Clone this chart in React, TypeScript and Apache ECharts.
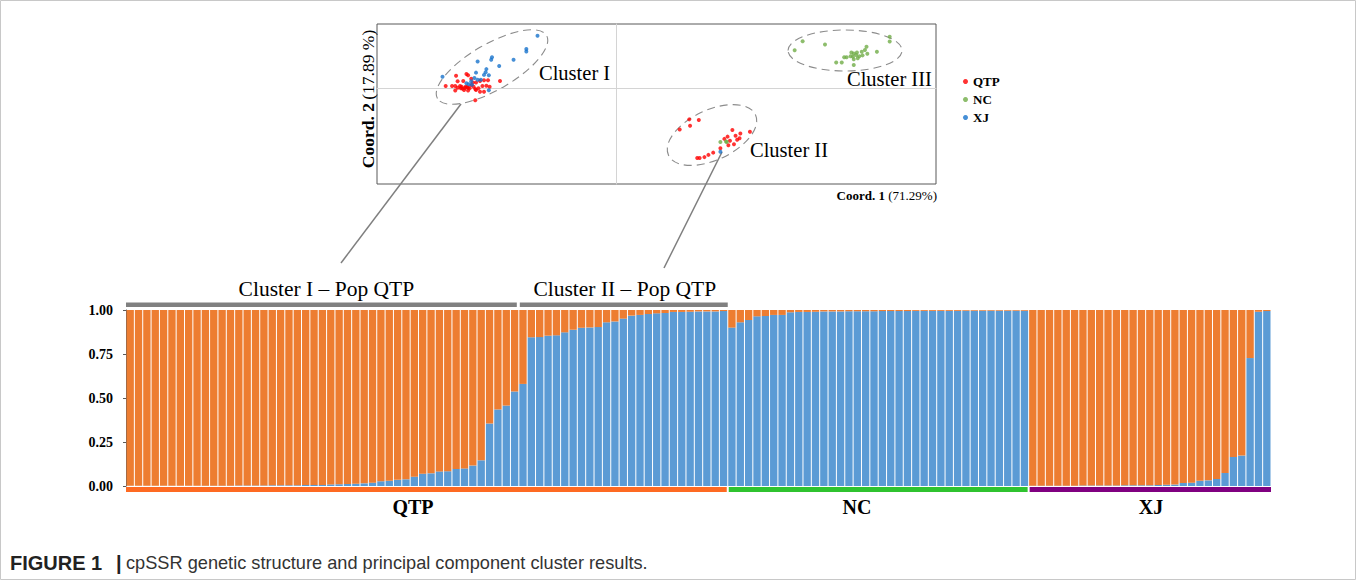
import React, { useEffect, useRef } from "react";
import * as echarts from "echarts";

// ---------- Structure (K=2) : blue ancestry fraction per individual ----------
const QTP_BLUE = [
  0.001, 0.001, 0.001, 0.001, 0.001, 0.001, 0.001, 0.001, 0.001,
  0.002, 0.002, 0.002, 0.002,
  0.003, 0.003, 0.003, 0.003,
  0.004, 0.004, 0.004, 0.004,
  0.006, 0.006, 0.006,
  0.009, 0.01, 0.012, 0.013, 0.015, 0.019, 0.027, 0.03, 0.035, 0.038,
  0.053, 0.07, 0.072, 0.083, 0.084, 0.097, 0.1, 0.116, 0.146,
  0.355, 0.435, 0.457, 0.537, 0.58,
  0.845, 0.846, 0.854, 0.856, 0.873, 0.888, 0.899, 0.901, 0.903,
  0.93, 0.935, 0.951, 0.968, 0.972, 0.977, 0.981, 0.983, 0.989, 0.989,
  0.99, 0.992, 0.992, 0.992, 0.994,
];
const NC_BLUE = [
  0.9, 0.93, 0.943, 0.964, 0.966, 0.972, 0.972, 0.987, 0.989, 0.989, 0.99,
  0.992, 0.992, 0.992, 0.993, 0.993, 0.993, 0.993, 0.994, 0.994, 0.994, 0.994,
  0.995, 0.995, 0.995, 0.995, 0.995, 0.995,
  0.996, 0.996, 0.996, 0.996, 0.996, 0.996, 0.996, 0.996,
];
const XJ_BLUE = [
  0.002, 0.002, 0.002, 0.002, 0.002, 0.002,
  0.003, 0.003, 0.003, 0.003, 0.003,
  0.004, 0.004, 0.004, 0.004,
  0.006, 0.007, 0.008, 0.017, 0.019, 0.03, 0.032, 0.04, 0.074,
  0.165, 0.173, 0.727, 0.99, 0.994,
];
const GROUPS = ["QTP", "NC", "XJ"];
const Y_TICKS = [0, 0.25, 0.5, 0.75, 1];
const CLUSTER_BRACKETS = [
  { label: "Cluster I – Pop QTP", from: 0, to: 46 },
  { label: "Cluster II – Pop QTP", from: 47, to: 71 },
];

// ---------- PCoA coordinates ----------
const QTP_PTS = [
  [-2.01, 0.38], [-1.88, 0.44], [-1.86, 0.4], [-1.82, 0.29], [-1.99, 0.21], [-1.92, 0.22],
  [-1.8, 0.17], [-1.76, 0.17], [-1.71, 0.22], [-1.66, 0.24], [-1.61, 0.24], [-1.46, 0.22],
  [-2.14, 0.06], [-2.06, 0.06], [-2.02, 0.06], [-1.96, 0.06], [-1.94, 0.04], [-1.89, 0.04],
  [-1.86, 0.01], [-1.84, -0.01], [-1.79, 0.04], [-1.77, -0.03], [-1.73, -0.01], [-1.68, 0.06],
  [-1.63, 0.07], [-1.59, 0.04], [-2.02, -0.08], [-1.91, -0.06], [-1.86, -0.08], [-1.76, -0.06],
  [-1.71, -0.12], [-1.66, -0.12], [-1.77, -0.38], [-1.93, -0.02], [-1.82, 0.09], [-1.99, 0.01],
  [-1.9, 0.0], [-1.87, 0.03], [-1.95, -0.01],
  [0.91, -0.98], [1.03, -1.0], [0.92, -1.18], [0.79, -1.3], [1.45, -1.31], [1.67, -1.37],
  [1.55, -1.42], [1.39, -1.52], [1.49, -1.49], [1.54, -1.57], [1.35, -1.59], [1.42, -1.65],
  [1.51, -1.62], [1.47, -1.76], [1.4, -1.79], [1.3, -1.88], [1.21, -2.02], [1.15, -2.09],
  [1.1, -2.16], [1.04, -2.19], [1.01, -2.19],
];
const NC_PTS = [
  [2.33, 1.46], [2.23, 1.18], [2.61, 1.36], [3.42, 1.6], [3.42, 1.45], [3.13, 1.29],
  [3.26, 1.13], [3.11, 1.19], [3.07, 1.13], [3.01, 1.11], [2.97, 1.08], [2.94, 1.11],
  [3.0, 1.03], [2.96, 0.98], [3.04, 0.99], [2.93, 0.99], [3.02, 0.93], [2.97, 0.9],
  [2.88, 0.96], [2.82, 0.8], [2.75, 0.8], [2.85, 0.96], [2.97, 0.72], [3.14, 1.07], [3.08, 1.02],
  [1.37, -1.67], [1.3, -1.69], [1.38, -1.69],
];
const XJ_PTS = [
  [-0.99, 1.63], [-1.13, 1.22], [-1.13, 1.14], [-1.29, 0.88], [-1.47, 0.69], [-1.56, 0.96],
  [-1.57, 0.88], [-1.74, 0.83], [-1.63, 0.59], [-1.64, 0.49], [-1.6, 0.4], [-1.76, 0.48],
  [-1.66, 0.41], [-1.7, 0.26], [-1.74, 0.26], [-1.82, 0.21], [-1.81, 0.1], [-1.85, 0.12],
  [-2.18, 0.35], [-1.6, -0.07], [-1.88, 0.15], [-1.78, 0.31],
  [1.3, -1.99],
];

const SERIF = "Liberation Serif";

export default function App() {
  const ref = useRef<HTMLDivElement>(null);

  useEffect(() => {
    if (!ref.current) return;
    const chart = echarts.init(ref.current, undefined, { renderer: "svg" });

    const blue = [...QTP_BLUE, ...NC_BLUE, ...XJ_BLUE];
    const orange = blue.map((v) => +(1 - v).toFixed(3));
    const cats = blue.map((_, i) => "S" + (i + 1));
    const groupSizes = [QTP_BLUE.length, NC_BLUE.length, XJ_BLUE.length];

    // bar grid geometry
    const BL = 126, BT = 310, BW = 1145, BH = 176;
    const step = BW / cats.length;
    const bx = (i: number) => BL + i * step;

    const groupColors = ["#fe6a22", "#2fc32f", "#800080"];
    const groupLabelX = [413, 857, 1151];
    const strips: any[] = [];
    let start = 0;
    groupSizes.forEach((n, gi) => {
      const x0 = bx(start) + (gi === 0 ? 0 : 1);
      const x1 = bx(start + n) - (gi === groupSizes.length - 1 ? 0 : 1);
      strips.push({
        type: "rect",
        shape: { x: x0, y: BT + BH + 1, width: x1 - x0, height: 5 },
        style: { fill: groupColors[gi] },
      });
      strips.push({
        type: "text",
        x: groupLabelX[gi],
        y: 507,
        style: {
          text: GROUPS[gi],
          fontFamily: SERIF,
          fontWeight: "bold",
          fontSize: 20,
          fill: "#000",
          textAlign: "center",
          textVerticalAlign: "middle",
        },
      });
      start += n;
    });

    const brackets: any[] = [];
    CLUSTER_BRACKETS.forEach((b, bi) => {
      const x0 = bx(b.from) + (bi === 0 ? 0 : 1);
      const x1 = bx(b.to + 1) - (bi === 0 ? 2 : 0);
      brackets.push({
        type: "rect",
        shape: { x: x0, y: 302.5, width: x1 - x0, height: 4.5 },
        style: { fill: "#808080" },
      });
      brackets.push({
        type: "text",
        x: (x0 + x1) / 2 + (bi === 0 ? 5 : 1),
        y: 289,
        style: {
          text: b.label,
          fontFamily: SERIF,
          fontSize: 21.5,
          fill: "#000",
          textAlign: "center",
          textVerticalAlign: "middle",
        },
      });
    });

    const dashed = { fill: "none", stroke: "#8c8c8c", lineWidth: 1.1, lineDash: [8, 5] };
    const deg = Math.PI / 180;

    const option: any = {
      animation: false,
      backgroundColor: "#fff",
      legend: {
        orient: "vertical",
        left: 958,
        top: 70,
        itemWidth: 5,
        itemHeight: 5,
        itemGap: 5,
        icon: "circle",
        data: GROUPS,
        textStyle: {
          fontFamily: SERIF,
          fontWeight: "bold",
          fontSize: 13,
          lineHeight: 13,
          color: "#000",
        },
      },
      grid: [
        {
          left: 377, top: 24, width: 559, height: 160,
          show: true, borderColor: "#595959", borderWidth: 1,
        },
        { left: BL, top: BT, width: BW, height: BH },
      ],
      xAxis: [
        {
          gridIndex: 0, type: "value", min: -3, max: 4,
          axisLine: { show: true, onZero: true, lineStyle: { color: "#d4d4d4", width: 1 } },
          axisTick: { show: false }, axisLabel: { show: false }, splitLine: { show: false },
        },
        {
          gridIndex: 1, type: "category", data: cats,
          axisLine: { show: false }, axisTick: { show: false }, axisLabel: { show: false },
        },
      ],
      yAxis: [
        {
          gridIndex: 0, type: "value", min: -3, max: 2,
          axisLine: { show: true, onZero: true, lineStyle: { color: "#d4d4d4", width: 1 } },
          axisTick: { show: false }, axisLabel: { show: false }, splitLine: { show: false },
        },
        {
          gridIndex: 1, type: "value", min: Y_TICKS[0], max: Y_TICKS[Y_TICKS.length - 1],
          interval: Y_TICKS[1] - Y_TICKS[0],
          axisLine: { show: true, lineStyle: { color: "#595959" } },
          axisTick: { show: true, length: 3, lineStyle: { color: "#595959" } },
          splitLine: { show: false },
          axisLabel: {
            margin: 13,
            formatter: (v: number) => v.toFixed(2),
            fontFamily: SERIF, fontWeight: "bold", fontSize: 14, color: "#000",
          },
        },
      ],
      series: [
        {
          name: "QTP", type: "scatter", xAxisIndex: 0, yAxisIndex: 0,
          data: QTP_PTS, symbolSize: 4, itemStyle: { color: "#ff0000" }, z: 3,
        },
        {
          name: "NC", type: "scatter", xAxisIndex: 0, yAxisIndex: 0,
          data: NC_PTS, symbolSize: 4, itemStyle: { color: "#70ad47" }, z: 3,
        },
        {
          name: "XJ", type: "scatter", xAxisIndex: 0, yAxisIndex: 0,
          data: XJ_PTS, symbolSize: 4, itemStyle: { color: "#1873cc" }, z: 4,
        },
        {
          name: "K1", type: "bar", stack: "q", xAxisIndex: 1, yAxisIndex: 1,
          data: blue, barCategoryGap: "12%", itemStyle: { color: "#5b9bd5" },
        },
        {
          name: "K2", type: "bar", stack: "q", xAxisIndex: 1, yAxisIndex: 1,
          data: orange, barCategoryGap: "12%", itemStyle: { color: "#ed7d31" },
        },
      ],
      graphic: [
        // outer frame
        {
          type: "rect",
          shape: { x: 0.5, y: 0.5, width: 1355, height: 579 },
          style: { fill: "none", stroke: "#c8c8c8", lineWidth: 1 },
          silent: true,
        },
        // ellipses
        { type: "ellipse", x: 492, y: 67, rotation: 30 * deg, shape: { cx: 0, cy: 0, rx: 63, ry: 23 }, style: dashed },
        { type: "ellipse", x: 712, y: 135, rotation: 25 * deg, shape: { cx: 0, cy: 0, rx: 48, ry: 25 }, style: dashed },
        { type: "ellipse", x: 845, y: 50.5, rotation: 0, shape: { cx: 0, cy: 0, rx: 57, ry: 20.5 }, style: dashed },
        // cluster labels
        { type: "text", x: 539, y: 73, style: { text: "Cluster I", fontFamily: SERIF, fontSize: 20.5, fill: "#000", textVerticalAlign: "middle" } },
        { type: "text", x: 847, y: 79, style: { text: "Cluster III", fontFamily: SERIF, fontSize: 20.5, fill: "#000", textVerticalAlign: "middle" } },
        { type: "text", x: 750, y: 150, style: { text: "Cluster II", fontFamily: SERIF, fontSize: 20.5, fill: "#000", textVerticalAlign: "middle" } },
        // leader lines
        { type: "line", shape: { x1: 461, y1: 104, x2: 341, y2: 263 }, style: { stroke: "#7f7f7f", lineWidth: 1.5 } },
        { type: "line", shape: { x1: 722, y1: 152, x2: 664, y2: 268 }, style: { stroke: "#7f7f7f", lineWidth: 1.5 } },
        // axis names
        {
          type: "text", x: 368, y: 99, rotation: Math.PI / 2,
          style: {
            text: "{b|Coord. 2} {n|(17.89 %)}",
            textAlign: "center", textVerticalAlign: "middle",
            rich: {
              b: { fontFamily: SERIF, fontWeight: "bold", fontSize: 17.5, fill: "#000" },
              n: { fontFamily: SERIF, fontSize: 17.5, fill: "#000" },
            },
          },
        },
        {
          type: "text", x: 937, y: 195,
          style: {
            text: "{b|Coord. 1} {n|(71.29%)}",
            textAlign: "right", textVerticalAlign: "middle",
            rich: {
              b: { fontFamily: SERIF, fontWeight: "bold", fontSize: 13, fill: "#000" },
              n: { fontFamily: SERIF, fontSize: 13, fill: "#000" },
            },
          },
        },
        ...brackets,
        ...strips,
        // caption
        {
          type: "text", x: 10, y: 563,
          style: {
            text: "FIGURE 1",
            textVerticalAlign: "middle",
            fontFamily: "Liberation Sans", fontWeight: "bold", fontSize: 20, fill: "#222",
          },
        },
        {
          type: "text", x: 116, y: 563,
          style: {
            text: "|",
            textVerticalAlign: "middle",
            fontFamily: "Liberation Sans", fontWeight: "bold", fontSize: 20, fill: "#222",
          },
        },
        {
          type: "text", x: 126, y: 563,
          style: {
            text: "cpSSR genetic structure and principal component cluster results.",
            textVerticalAlign: "middle",
            fontFamily: "Liberation Sans", fontSize: 18.2, fill: "#333",
          },
        },
      ],
    };

    chart.setOption(option);
    return () => chart.dispose();
  }, []);

  return (
    <div
      ref={ref}
      style={{ position: "absolute", left: 0, top: 0, width: 1357, height: 581, background: "#fff" }}
    />
  );
}
